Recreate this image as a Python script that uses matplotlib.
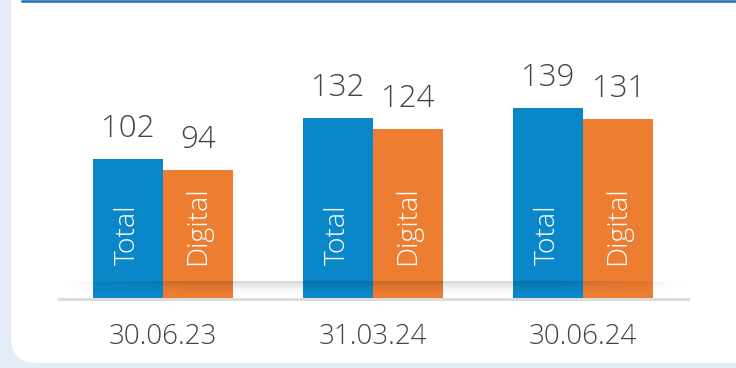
import numpy as np
import matplotlib
matplotlib.use("Agg")
import matplotlib.pyplot as plt
from matplotlib.patches import FancyBboxPatch
from matplotlib.lines import Line2D

# values per reporting date
dates = ["30.06.23", "31.03.24", "30.06.24"]
total = [102, 132, 139]
digital = [94, 124, 131]
series_names = ["Total", "Digital"]

BLUE = "#0a87c9"
ORANGE = "#ed7d31"
TEXT = "#444444"

plt.rcParams["font.family"] = ["Open Sans", "DejaVu Sans"]
WEIGHT = 300

W, H = 736, 368
fig = plt.figure(figsize=(W / 100, H / 100), dpi=100)
fig.patch.set_facecolor("#e4edf6")

def px(x, y):
    # image pixel coords (y down) -> figure fraction
    return x / W, 1 - y / H

# white card with rounded corners
x0, y0 = px(11, 363)
card = FancyBboxPatch((x0, y0), 1.2, 1.2, boxstyle="round,pad=0,rounding_size=0.035",
                      transform=fig.transFigure, facecolor="white", edgecolor="none",
                      mutation_aspect=W / H, zorder=-2)
fig.patches.append(card)
fig.lines.append(Line2D([22 / W, 1], [1 - 1 / H, 1 - 1 / H], transform=fig.transFigure,
                        color="#1d6fb1", lw=1.8, zorder=-1))

# axes placed so the baseline sits at pixel row 298
base_y = 298
ax = fig.add_axes([59 / W, (H - base_y) / H, (688 - 59) / W, base_y / H], zorder=1)
ax.set_facecolor("none")
ax.axis("off")

x = np.arange(len(dates))
bw = 0.335
bars_t = ax.bar(x - bw / 2, total, bw, color=BLUE, zorder=2)
bars_d = ax.bar(x + bw / 2, digital, bw, color=ORANGE, zorder=2)

# soft shadow along the baseline
grad = np.linspace(1, 0, 60).reshape(-1, 1)
fade = np.minimum(1, np.minimum(np.linspace(0, 5, 300), np.linspace(5, 0, 300)))
rgba = np.zeros((60, 300, 4))
rgba[..., 3] = (grad ** 2.2) * fade[None, :] * 0.17
ax.imshow(rgba, extent=(-0.495, 2.5, 0, 12), aspect="auto", origin="upper",
          zorder=3, interpolation="bilinear")
ax.set_ylim(0, base_y / 1.365)
ax.set_xlim(-0.495, 2.5)
ax.axhline(-0.6, color="#dcdcdc", lw=2.2, zorder=4, clip_on=False)

for bars, vals, name in [(bars_t, total, series_names[0]), (bars_d, digital, series_names[1])]:
    for b, v in zip(bars, vals):
        cx = b.get_x() + b.get_width() / 2
        ax.annotate(str(v), (cx, v), xytext=(0, 10), textcoords="offset points",
                    ha="center", va="bottom", fontsize=22.5, color=TEXT, fontweight=WEIGHT)
        ax.text(cx, 24, name, rotation=90, ha="center", va="bottom",
                fontsize=20.5, color="white", fontweight=WEIGHT, zorder=5)

for xi, d in zip(x, dates):
    ax.text(xi, -39 / 1.365, d, ha="center", va="center", fontsize=20,
            color=TEXT, fontweight=WEIGHT, clip_on=False)

fig.savefig("out.png", dpi=100, facecolor=fig.get_facecolor())
